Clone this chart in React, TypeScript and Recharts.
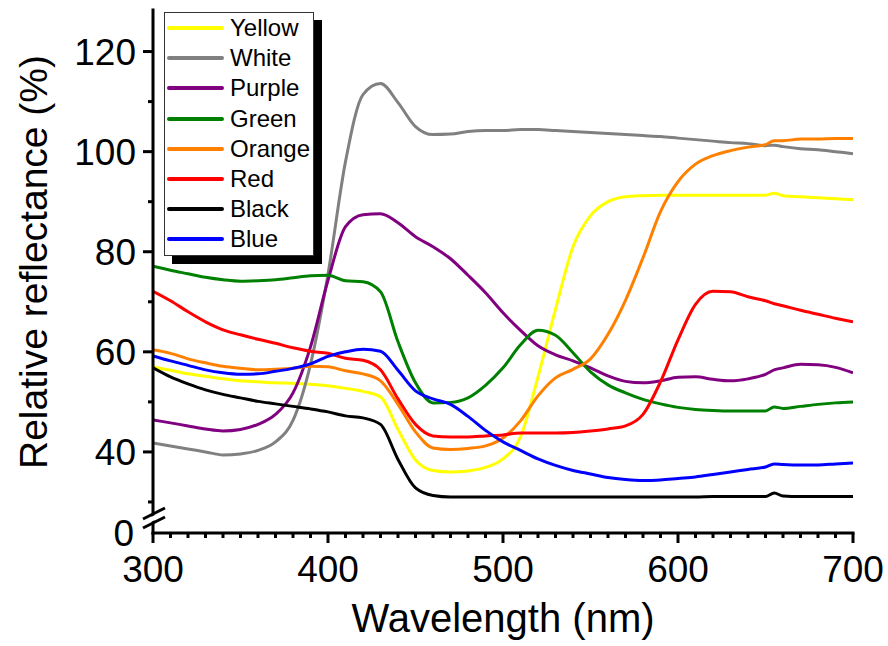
/* Relative reflectance spectra — 8 colour samples */

import { LineChart, Line, XAxis, YAxis, Legend, Label } from 'recharts';

const FONT = '"Liberation Sans", Arial, sans-serif';

/* ── Data ─────────────────────────────────────── */

const WAVELENGTHS = [
  300, 310, 320, 330, 340, 350, 360, 370, 380, 390,
  400, 410, 420, 430, 440, 450, 460, 470, 480, 490,
  500, 510, 520, 530, 540, 550, 560, 570, 580, 590,
  600, 610, 620, 630, 640, 650, 655, 660, 670, 680, 690, 700,
];

const YELLOW = [
  57.0, 56.3, 55.6, 55.1, 54.6, 54.2, 54.0, 53.8, 53.7, 53.5,
  53.2, 52.7, 52.1, 51.0, 44.5, 38.4, 36.3, 36.0, 36.2, 36.9,
  38.6, 43.0, 55.0, 68.5, 81.0, 87.2, 90.0, 91.0, 91.2, 91.3,
  91.3, 91.3, 91.3, 91.3, 91.3, 91.3, 91.7, 91.2, 91.0, 90.8, 90.6, 90.4,
];

const WHITE = [
  41.8, 41.2, 40.6, 40.0, 39.4, 39.6, 40.3, 42.0, 46.3, 57.5,
  75.5, 98.0, 111.4, 113.6, 109.8, 105.0, 103.4, 103.5, 104.0, 104.2,
  104.2, 104.4, 104.4, 104.2, 104.0, 103.8, 103.6, 103.4, 103.2, 103.0,
  102.7, 102.4, 102.1, 101.8, 101.6, 101.2, 101.3, 101.0, 100.6, 100.4, 100.0, 99.6,
];

const PURPLE = [
  46.4, 45.8, 45.2, 44.6, 44.2, 44.5, 45.5, 47.5, 51.8, 61.0,
  74.3, 85.0, 87.4, 87.6, 85.8, 83.0, 81.0, 78.6, 75.3, 71.8,
  67.8, 64.3, 61.2, 59.4, 58.2, 56.8, 55.2, 54.1, 53.8, 54.2,
  54.9, 55.0, 54.5, 54.2, 54.6, 55.5, 56.4, 56.8, 57.5, 57.4, 56.9, 55.8,
];

const GREEN = [
  77.1, 76.3, 75.6, 74.9, 74.4, 74.1, 74.2, 74.4, 74.8, 75.2,
  75.3, 74.2, 74.0, 72.0, 62.0, 53.8, 49.8, 49.9, 50.8, 53.3,
  56.8, 61.4, 64.3, 63.3, 59.8, 56.0, 53.4, 51.8, 50.5, 49.6,
  48.9, 48.5, 48.3, 48.2, 48.2, 48.2, 49.0, 48.7, 49.1, 49.5, 49.8, 50.0,
];

const ORANGE = [
  60.4, 59.7, 58.6, 57.8, 57.1, 56.7, 56.4, 56.5, 56.7, 57.1,
  57.0, 56.2, 55.6, 54.2, 49.5, 44.0, 40.8, 40.5, 40.7, 41.2,
  42.8, 46.2, 51.2, 54.8, 56.5, 58.6, 63.5, 70.3, 78.8, 88.0,
  94.0, 97.5, 99.2, 100.2, 100.9, 101.4, 102.2, 102.2, 102.5, 102.5, 102.6, 102.6,
];

const RED = [
  72.1, 70.2, 68.0, 66.0, 64.4, 63.4, 62.5, 61.7, 60.8, 60.1,
  59.7, 58.7, 58.3, 56.4, 50.6, 45.5, 43.2, 43.0, 43.0, 43.2,
  43.4, 43.8, 43.8, 43.8, 43.9, 44.2, 44.6, 45.2, 47.5, 54.0,
  62.4, 69.5, 72.1, 72.0, 71.0, 70.2, 69.6, 69.2, 68.3, 67.5, 66.7, 66.0,
];

const BLACK = [
  56.8, 55.0, 53.6, 52.4, 51.5, 50.8, 50.1, 49.6, 49.1, 48.6,
  48.0, 47.2, 46.8, 45.5, 38.5, 32.8, 31.3, 31.0, 31.0, 31.0,
  31.0, 31.0, 31.0, 31.0, 31.0, 31.0, 31.0, 31.0, 31.0, 31.0,
  31.0, 31.0, 31.1, 31.1, 31.1, 31.1, 31.8, 31.2, 31.1, 31.1, 31.1, 31.1,
];

const BLUE = [
  59.2, 58.2, 57.3, 56.4, 55.8, 55.5, 55.6, 56.1, 56.7, 57.6,
  59.1, 60.0, 60.5, 60.1, 56.3, 52.2, 50.6, 49.5, 47.1, 44.3,
  42.0, 40.3, 38.6, 37.3, 36.3, 35.6, 34.9, 34.5, 34.3, 34.4,
  34.7, 35.0, 35.5, 36.0, 36.5, 37.0, 37.6, 37.5, 37.4, 37.4, 37.6, 37.8,
];

const SERIES = [
  { key: 'yellow', name: 'Yellow', color: '#ffff00', values: YELLOW },
  { key: 'white', name: 'White', color: '#808080', values: WHITE },
  { key: 'purple', name: 'Purple', color: '#800080', values: PURPLE },
  { key: 'green', name: 'Green', color: '#008000', values: GREEN },
  { key: 'orange', name: 'Orange', color: '#ff8000', values: ORANGE },
  { key: 'red', name: 'Red', color: '#ff0000', values: RED },
  { key: 'black', name: 'Black', color: '#000000', values: BLACK },
  { key: 'blue', name: 'Blue', color: '#0000ff', values: BLUE },
];

// broken y axis: the bottom of the axis is labelled "0"
const Y_MIN = 23.8;
const Y_MAX = 128.3;
const Y_TICKS = [Y_MIN, 30, 40, 50, 60, 70, 80, 90, 100, 110, 120];
const Y_LABELS = [40, 60, 80, 100, 120];

const X_TICKS = Array.from({ length: 41 }, (_, i) => 300 + i * 10);

const chartData = WAVELENGTHS.map((wl, i) => {
  const row: Record<string, number> = { wl };
  SERIES.forEach((s) => (row[s.key] = s.values[i]));
  return row;
});

/* ── Axis ticks ──────────────────────────────── */

function YTick(props: any) {
  const { x, y, payload } = props;
  const v = payload.value;
  if (v === Y_MIN) {
    return (
      <g>
        <polygon
          points={`${x - 10},${y - 7} ${x + 12},${y - 18} ${x + 12},${y - 23} ${x - 10},${y - 12}`}
          fill="#fff"
        />
        <line x1={x - 10} y1={y - 14} x2={x + 12} y2={y - 25} stroke="#000" strokeWidth={3} />
        <line x1={x - 10} y1={y - 5} x2={x + 12} y2={y - 16} stroke="#000" strokeWidth={3} />
        <text x={x - 19} y={y + 13} textAnchor="end" fontSize={37} fontFamily={FONT} fill="#000">
          0
        </text>
      </g>
    );
  }
  const major = Y_LABELS.includes(v);
  return (
    <g>
      <line x1={x - (major ? 10 : 5)} y1={y} x2={x} y2={y} stroke="#000" strokeWidth={3} />
      {major && (
        <text x={x - 17} y={y + 13} textAnchor="end" fontSize={37} fontFamily={FONT} fill="#000">
          {v}
        </text>
      )}
    </g>
  );
}

function XTick(props: any) {
  const { x, y, payload } = props;
  const v = payload.value;
  const major = v % 100 === 0;
  return (
    <g>
      <line x1={x} y1={y} x2={x} y2={y + (major ? 10 : 5)} stroke="#000" strokeWidth={3} />
      {major && (
        <text x={x} y={y + 49} textAnchor="middle" fontSize={37} fontFamily={FONT} fill="#000">
          {v}
        </text>
      )}
    </g>
  );
}

/* ── Legend ──────────────────────────────────── */

function LegendBox() {
  return (
    <div
      style={{
        width: 150,
        height: 244,
        boxSizing: 'border-box',
        border: '1px solid #333',
        background: '#fff',
        boxShadow: '8px 8px 0 #000',
      }}
    >
      {SERIES.map((s) => (
        <div key={s.key} style={{ display: 'flex', alignItems: 'center', height: 30.2 }}>
          <div style={{ width: 57, height: 4, marginLeft: 2, background: s.color, borderRadius: 2 }} />
          <span
            style={{ marginLeft: 6, fontSize: 24, lineHeight: '24px', fontFamily: FONT, color: '#000' }}
          >
            {s.name}
          </span>
        </div>
      ))}
    </div>
  );
}

/* ── Chart ───────────────────────────────────── */

export default function App() {
  return (
    <div style={{ position: 'absolute', left: 0, top: 0, background: '#fff' }}>
      <LineChart
        width={888}
        height={646}
        data={chartData}
        margin={{ top: 10, right: 35, bottom: 0, left: 0 }}
      >
        <XAxis
          dataKey="wl"
          type="number"
          domain={[300, 700]}
          ticks={X_TICKS}
          interval={0}
          allowDataOverflow
          height={113}
          tickSize={0}
          tickMargin={0}
          tick={<XTick />}
          axisLine={{ stroke: '#000', strokeWidth: 3, strokeLinecap: 'square' }}
        >
          <Label
            content={() => (
              <text x={503} y={632} textAnchor="middle" fontSize={40} fontFamily={FONT} fill="#000">
                Wavelength (nm)
              </text>
            )}
          />
        </XAxis>
        <YAxis
          type="number"
          domain={[Y_MIN, Y_MAX]}
          ticks={Y_TICKS}
          interval={0}
          allowDataOverflow
          width={153}
          tickSize={0}
          tickMargin={0}
          tick={<YTick />}
          axisLine={{ stroke: '#000', strokeWidth: 3, strokeLinecap: 'square' }}
        >
          <Label
            content={() => (
              <text
                x={47}
                y={262}
                transform="rotate(-90, 47, 262)"
                textAnchor="middle"
                fontSize={39}
                fontFamily={FONT}
                fill="#000"
              >
                Relative reflectance (%)
              </text>
            )}
          />
        </YAxis>
        <Legend
          layout="vertical"
          align="center"
          verticalAlign="middle"
          content={() => <LegendBox />}
          wrapperStyle={{ left: 164, top: 12, width: 150, height: 244 }}
        />
        {SERIES.map((s) => (
          <Line
            key={s.key}
            type="monotone"
            dataKey={s.key}
            name={s.name}
            stroke={s.color}
            strokeWidth={3}
            dot={false}
            activeDot={false}
            isAnimationActive={false}
          />
        ))}
      </LineChart>
    </div>
  );
}
